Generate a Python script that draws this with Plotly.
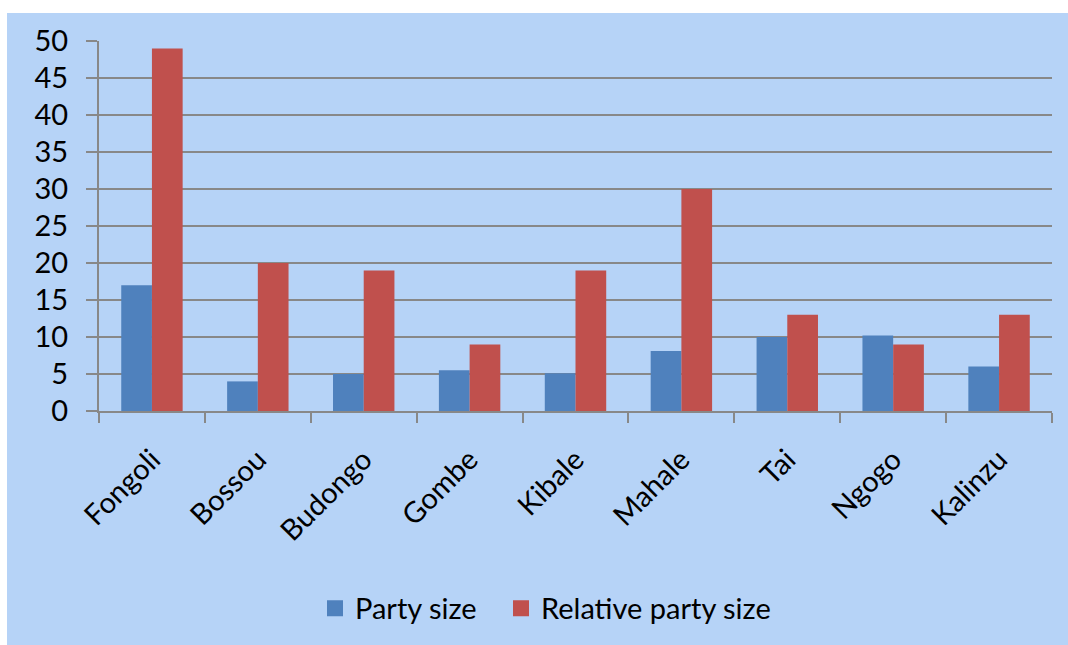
import plotly.graph_objects as go

sites = ["Fongoli", "Bossou", "Budongo", "Gombe", "Kibale", "Mahale", "Tai", "Ngogo", "Kalinzu"]
party_size = [17, 4, 5, 5.5, 5.1, 8.1, 10, 10.2, 6]
relative_party_size = [49, 20, 19, 9, 19, 30, 13, 9, 13]
y_ticks = [0, 5, 10, 15, 20, 25, 30, 35, 40, 45, 50]

BLUE = "#4F81BD"
RED = "#C0504D"
BG = "#B6D3F7"
GRID = "#888888"
FONT = "Lato, Open Sans, sans-serif"
FS = 29

fig = go.Figure()
fig.add_trace(go.Bar(x=sites, y=party_size, name="Party size", marker_color=BLUE,
                     marker_line_width=0, showlegend=False))
fig.add_trace(go.Bar(x=sites, y=relative_party_size, name="Relative party size", marker_color=RED,
                     marker_line_width=0, showlegend=False))
# legend entries with large square swatches
fig.add_trace(go.Scatter(x=[None], y=[None], mode="markers", name="Party size", legend="legend",
                         marker=dict(symbol="square", size=18, color=BLUE)))
fig.add_trace(go.Scatter(x=[None], y=[None], mode="markers", name="Relative party size",
                         legend="legend2", marker=dict(symbol="square", size=18, color=RED)))

L, R, T, B = 99, 16, 41, 233
W, H = 1068, 645
pw, ph = W - L - R, H - T - B

fig.add_shape(type="rect", xref="paper", yref="paper", layer="below",
              x0=(7 - L) / pw, x1=(W - L) / pw + 0.01,
              y0=-(B + 5) / ph, y1=(H - B - 13) / ph,
              fillcolor=BG, line_width=0)

legend_common = dict(orientation="h", xanchor="left", y=-(608 - 411.7) / ph, yanchor="middle",
                     font=dict(size=FS), itemwidth=30, bgcolor="rgba(0,0,0,0)")

fig.update_layout(
    width=W, height=H,
    margin=dict(l=L, r=R, t=T, b=B),
    paper_bgcolor="white",
    plot_bgcolor="rgba(0,0,0,0)",
    barmode="group", bargap=0.42, bargroupgap=0,
    font=dict(family=FONT, size=FS, color="black"),
    legend=dict(x=(315 - L) / pw, **legend_common),
    legend2=dict(x=(501 - L) / pw, **legend_common),
    xaxis=dict(type="category", showline=True, linecolor=GRID, linewidth=2,
               ticks="outside", tickson="boundaries", ticklen=10, tickwidth=2, tickcolor=GRID,
               tickangle=-45, showgrid=False, tickfont=dict(size=FS), ticklabelstandoff=18),
    yaxis=dict(range=[0, 50], tickvals=y_ticks, showline=True, linecolor=GRID, linewidth=2,
               ticks="outside", ticklen=11, tickwidth=2, tickcolor=GRID,
               showgrid=True, gridcolor=GRID, gridwidth=2, zeroline=False,
               ticklabelstandoff=12, tickfont=dict(size=FS)),
)

fig.write_html("out.html")
